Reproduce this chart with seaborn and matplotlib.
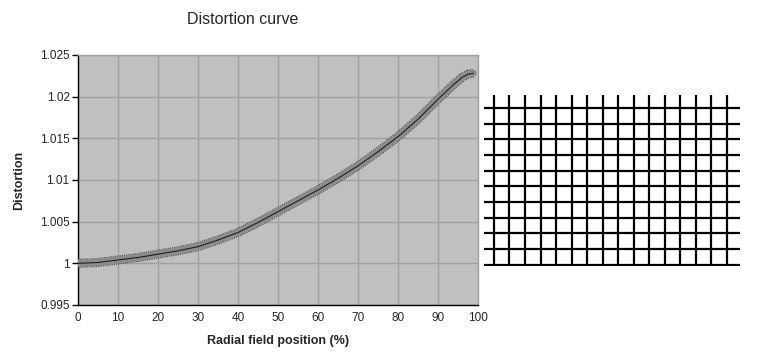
import numpy as np
import pandas as pd
import seaborn as sns
import matplotlib.pyplot as plt

# Distortion curve values
field_pos = [0, 5, 10, 15, 20, 25, 30, 35, 40, 45, 50, 55, 60, 65, 70, 75,
             80, 85, 90, 94, 96, 97.5, 98.8]
distortion = [1.0000, 1.0001, 1.0004, 1.0007, 1.0011, 1.0015, 1.0020, 1.0028,
              1.0037, 1.0049, 1.0062, 1.0075, 1.0088, 1.0102, 1.0117, 1.0134,
              1.0152, 1.0173, 1.0197, 1.0215, 1.0223, 1.0227, 1.0228]

x_ticks = [0, 10, 20, 30, 40, 50, 60, 70, 80, 90, 100]
y_ticks = [0.995, 1.0, 1.005, 1.01, 1.015, 1.02, 1.025]
y_tick_labels = ['0.995', '1', '1.005', '1.01', '1.015', '1.02', '1.025']

# distorted grid picture: column / row indices of the lines
grid_cols = list(range(16))
grid_rows = list(range(11))

df = pd.DataFrame({'pos': field_pos, 'dist': distortion})

sns.set_theme(style='white')
plt.rcParams['font.family'] = ['Liberation Sans', 'DejaVu Sans']
plt.rcParams['lines.scale_dashes'] = False

fig = plt.figure(figsize=(7.64, 3.62), dpi=100)
ax = fig.add_axes([0.1021, 0.1575, 0.5236, 0.6906])
ax.set_facecolor('#c0c0c0')

# thick band with dotted edges and a dark centre line
sns.lineplot(data=df, x='pos', y='dist', ax=ax, color='#484848', lw=6.5,
             linestyle=(0, (0.8, 0.8)), zorder=3)
sns.lineplot(data=df, x='pos', y='dist', ax=ax, color='#8c8c8c', lw=5.0, zorder=4)
sns.lineplot(data=df, x='pos', y='dist', ax=ax, color='#202020', lw=0.8, zorder=5)

ax.set_xlim(0, 100)
ax.set_ylim(0.995, 1.025)
ax.set_xticks(x_ticks)
ax.set_yticks(y_ticks)
ax.set_yticklabels(y_tick_labels)
ax.grid(True, color='#a0a0a0', lw=1.0)
ax.tick_params(axis='y', length=4, width=1, color='black', labelsize=8.5, pad=2, left=True)
ax.tick_params(axis='x', length=0, labelsize=8.5, pad=5)
for s in ['top', 'right']:
    ax.spines[s].set_color('#a0a0a0')
    ax.spines[s].set_linewidth(1)
for s in ['left', 'bottom']:
    ax.spines[s].set_color('black')
    ax.spines[s].set_linewidth(1)

ax.set_xlabel('Radial field position (%)', fontsize=9, fontweight='bold', labelpad=8)
ax.set_ylabel('Distortion', fontsize=9, fontweight='bold', labelpad=11)
fig.text(0.318, 0.945, 'Distortion curve', ha='center', va='center', fontsize=11.5)

# the distorted grid image on the right
gax = fig.add_axes([0.6335, 0.2652, 0.335, 0.4724])
gax.set_xlim(-0.64, 15.84)
gax.set_ylim(-0.08, 10.83)
for c in grid_cols:
    gax.axvline(c, color='black', lw=1.6)
for r in grid_rows:
    gax.axhline(r, color='black', lw=1.6)
gax.axis('off')

fig.savefig('out.png', dpi=100)
